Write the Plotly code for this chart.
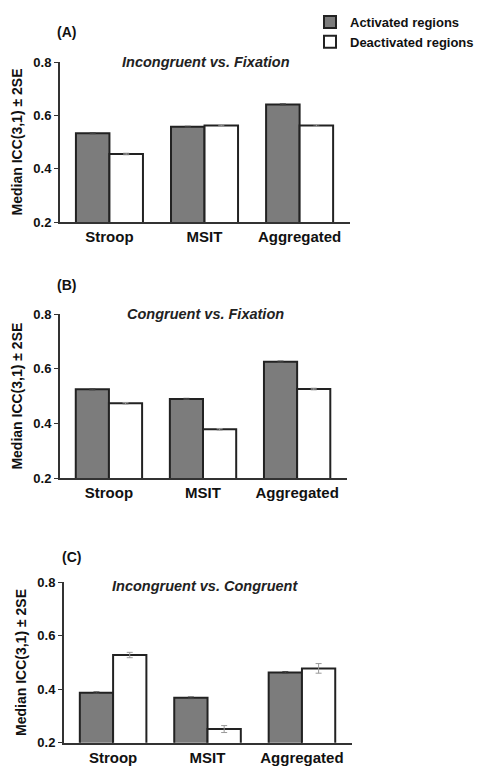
import plotly.graph_objects as go

categories = ["Stroop", "MSIT", "Aggregated"]
series_names = ["Activated regions", "Deactivated regions"]

# Panel A: Incongruent vs. Fixation
a_activated = [0.533, 0.557, 0.641]
a_deactivated = [0.455, 0.562, 0.562]
a_act_err = [0.002, 0.002, 0.002]
a_deact_err = [0.003, 0.002, 0.003]

# Panel B: Congruent vs. Fixation
b_activated = [0.525, 0.490, 0.626]
b_deactivated = [0.474, 0.379, 0.526]
b_act_err = [0.002, 0.002, 0.002]
b_deact_err = [0.003, 0.003, 0.003]

# Panel C: Incongruent vs. Congruent
c_activated = [0.387, 0.368, 0.463]
c_deactivated = [0.528, 0.251, 0.478]
c_act_err = [0.003, 0.003, 0.003]
c_deact_err = [0.010, 0.013, 0.018]

panel_titles = ["Incongruent vs. Fixation", "Congruent vs. Fixation", "Incongruent vs. Congruent"]
panel_labels = ["(A)", "(B)", "(C)"]
y_ticks = [0.2, 0.4, 0.6, 0.8]
y_title = "Median ICC(3,1) ± 2SE"

# page has an 8px body margin; figure is sized so it fits the 482x766 window
OFF = 8
W, H = 482 - OFF, 766 - OFF
FONT = "Liberation Sans, Arial, sans-serif"
GRAY = "#7c7c7c"
EDGE = "#222222"


def fx(p):
    return (p - OFF) / W


def fy(p):
    return 1 - (p - OFF) / H


panels = [
    (a_activated, a_deactivated, a_act_err, a_deact_err),
    (b_activated, b_deactivated, b_act_err, b_deact_err),
    (c_activated, c_deactivated, c_act_err, c_deact_err),
]
# window-pixel layouts: (x_left, x_right, y_top(0.8), y_bottom(0.2))
px = [(60, 350, 62, 222), (60, 347, 314, 478.3), (64, 352, 582.3, 742.7)]
title_px = [(206, 62), (205, 314), (205, 586)]
label_px = [(66, 32), (66, 285), (72, 557)]

fig = go.Figure()
for i, (act, deact, aerr, derr) in enumerate(panels):
    n = "" if i == 0 else str(i + 1)
    xa, ya = "x" + n, "y" + n
    fig.add_trace(go.Bar(
        x=categories, y=act, name=series_names[0], xaxis=xa, yaxis=ya,
        marker=dict(color=GRAY, line=dict(color=EDGE, width=2)),
        error_y=dict(type="data", array=aerr, color="#444444", thickness=1, width=3),
        showlegend=(i == 0), legendgroup="act",
    ))
    fig.add_trace(go.Bar(
        x=categories, y=deact, name=series_names[1], xaxis=xa, yaxis=ya,
        marker=dict(color="white", line=dict(color=EDGE, width=2)),
        error_y=dict(type="data", array=derr, color="#999999", thickness=1, width=3),
        showlegend=(i == 0), legendgroup="deact",
    ))
    xl, xr, yt, yb = px[i]
    fig.layout["xaxis" + n] = dict(
        domain=[fx(xl), fx(xr)], anchor=ya, range=[-0.52, 2.53],
        showline=True, linecolor="#333333", linewidth=2, ticks="",
        tickfont=dict(family=FONT, size=15, color="#111111", weight="bold"),
        showgrid=False, zeroline=False, fixedrange=True,
    )
    fig.layout["yaxis" + n] = dict(
        domain=[fy(yb), fy(yt)], anchor=xa, range=[0.2, 0.8],
        tickvals=y_ticks, ticktext=["0.2", "0.4", "0.6", "0.8"],
        showline=True, linecolor="#333333", linewidth=2, ticks="outside",
        ticklen=4, tickcolor="#333333",
        tickfont=dict(family=FONT, size=13, color="#111111", weight="bold"),
        showgrid=False, zeroline=False,
        title=dict(text=y_title, standoff=7,
                   font=dict(family=FONT, size=14, color="#111111", weight="bold")),
    )
    tx, ty = title_px[i]
    fig.add_annotation(
        x=fx(tx), y=fy(ty), xref="paper", yref="paper", text=panel_titles[i],
        showarrow=False, xanchor="center", yanchor="middle",
        font=dict(family=FONT, size=14.5, color="#222222", style="italic", weight="bold"),
    )
    lx, ly = label_px[i]
    fig.add_annotation(
        x=fx(lx), y=fy(ly), xref="paper", yref="paper", text=panel_labels[i],
        showarrow=False, xanchor="center", yanchor="middle",
        font=dict(family=FONT, size=14, color="#111111", weight="bold"),
    )

fig.update_layout(
    width=W, height=H, margin=dict(l=0, r=0, t=0, b=0, autoexpand=False),
    paper_bgcolor="white", plot_bgcolor="white",
    barmode="group", bargap=0.295, bargroupgap=0,
    legend=dict(x=fx(310), y=fy(7), xanchor="left", yanchor="top",
                font=dict(family=FONT, size=13, color="#111111", weight="bold"),
                bgcolor="rgba(0,0,0,0)", tracegroupgap=0, itemwidth=30),
)

fig.write_html("out.html")
